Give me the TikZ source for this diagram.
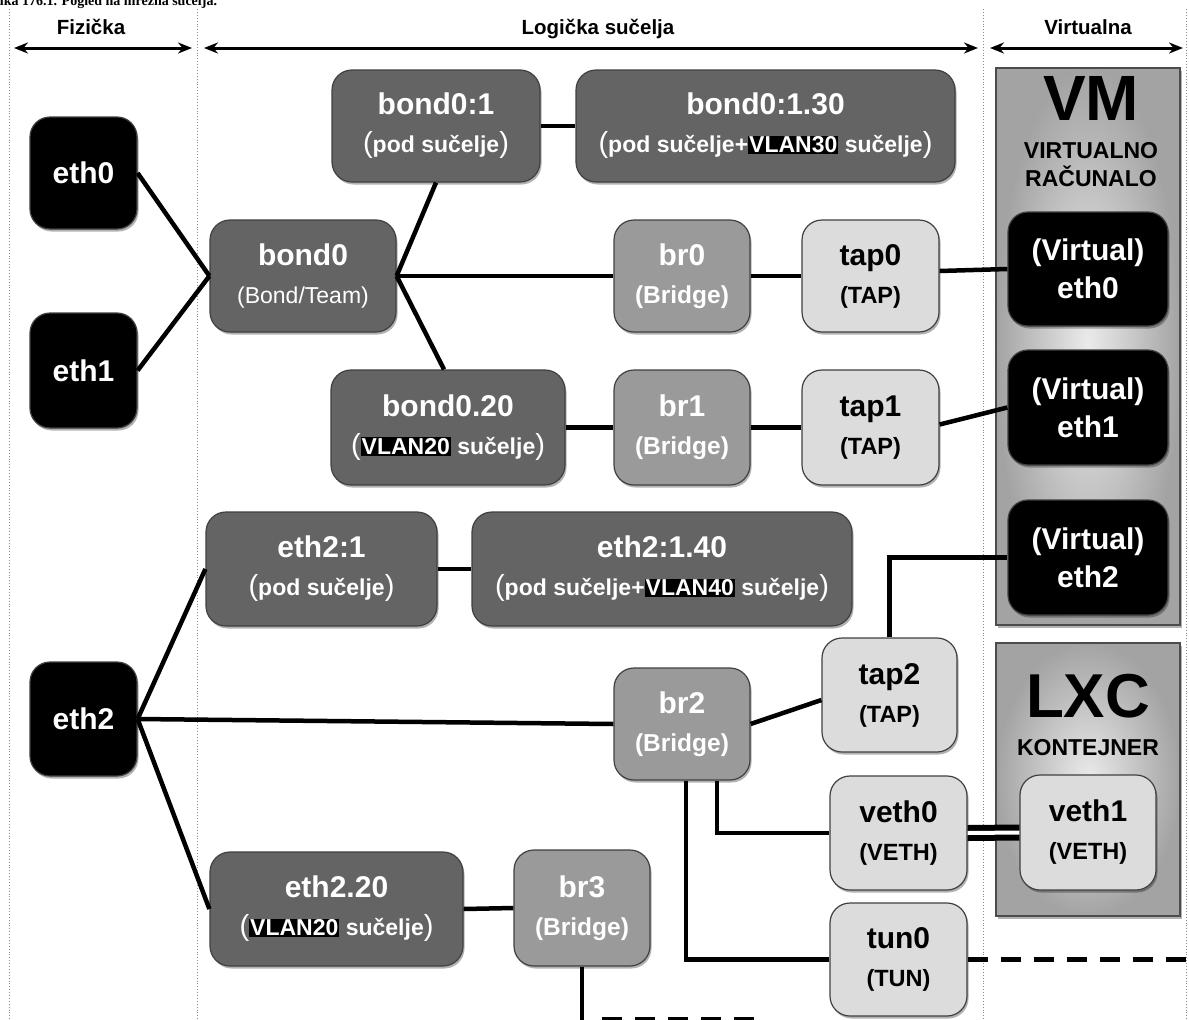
\documentclass[tikz,border=0pt]{standalone}
\usepackage{fontspec}
\setmainfont{Liberation Sans}
\newfontfamily\capfont{Liberation Serif}
\usetikzlibrary{arrows.meta,shadows,calc}
\definecolor{darkbg}{HTML}{646464}
\definecolor{midbg}{HTML}{9A9A9A}
\definecolor{lightbg}{HTML}{DCDCDC}
\newcommand\nt[1]{{\fontsize{30}{38}\selectfont\bfseries #1}}
\newcommand\ns[1]{{\fontsize{23}{38}\selectfont\bfseries #1}}
\newcommand\nsb[1]{{\fontsize{24.5}{38}\selectfont\bfseries #1}}
\newcommand\nsr[1]{{\fontsize{23}{38}\selectfont\mdseries #1}}
\newcommand\nst[1]{{\fontsize{23.5}{38}\selectfont\bfseries #1}}
\newcommand\np[1]{{\fontsize{29}{38}\selectfont\mdseries #1}}
\newcommand\vlan[1]{{\setlength{\fboxsep}{1pt}\colorbox{black}{#1}}}
\tikzset{
  ifbox/.style={draw=black!75, line width=1.2pt, rounded corners=20pt, inner sep=0pt,
    align=center, font=\fontsize{23}{38}\selectfont,
    drop shadow={shadow xshift=1.5pt, shadow yshift=-2.5pt, opacity=0.3, fill=black}},
  blackbox/.style={ifbox, fill=black, text=white},
  darkbox/.style={ifbox, fill=darkbg, text=white},
  midbox/.style={ifbox, fill=midbg, text=white},
  lightbox/.style={ifbox, fill=lightbg, text=black},
  conn/.style={line width=4.5pt, black},
  dashconn/.style={conn, dash pattern=on 20pt off 13pt},
  sepline/.style={black!45, dotted, line width=0.9pt},
  hdrarrow/.style={line width=3pt, {Stealth[length=14pt,width=11pt]}-{Stealth[length=14pt,width=11pt]}},
  hdrtext/.style={anchor=base, inner sep=0pt, font=\bfseries\fontsize{20.5}{20}\selectfont},
  vbox/.style={draw=black!70, line width=1.2pt, inner sep=0pt, inner color=black!8, outer color=black!36,
    drop shadow={shadow xshift=1.5pt, shadow yshift=-2.5pt, opacity=0.3, fill=black}},
}
\begin{document}
\begin{tikzpicture}[x=1pt,y=-1pt]
\useasboundingbox (0,0) rectangle (1189,1020);
\clip (0,0) rectangle (1189,1020);
\fill[white] (0,0) rectangle (1189,1020);

% caption (cut off at the top, as in the reference)
\node[anchor=base west, inner sep=0pt, font=\capfont\bfseries\fontsize{14}{14}\selectfont] (cap) at (-12,5) {Slika 176.1. Pogled na mrežna sučelja.};

% separators
\coordinate (s1t) at (9,9);    \coordinate (s1b) at (9,1020);
\coordinate (s2t) at (197,9);  \coordinate (s2b) at (197,1020);
\coordinate (s3t) at (983,9);  \coordinate (s3b) at (983,1020);
\coordinate (s4t) at (1186,9); \coordinate (s4b) at (1186,1020);
\draw[sepline] (s1t) -- (s1b);
\draw[sepline] (s2t) -- (s2b);
\draw[sepline] (s3t) -- (s3b);
\draw[sepline] (s4t) -- (s4b);

% headers
\node[hdrtext] (hfiz) at (91,34) {Fizička};
\node[hdrtext] (hlog) at (598,34) {Logička sučelja};
\node[hdrtext] (hvirt) at (1088,34) {Virtualna};
\coordinate (a1l) at (14,48);  \coordinate (a1r) at (192,48);
\coordinate (a2l) at (204,48); \coordinate (a2r) at (978,48);
\coordinate (a3l) at (990,48); \coordinate (a3r) at (1183,48);
\draw[hdrarrow] (a1l) -- (a1r);
\draw[hdrarrow] (a2l) -- (a2r);
\draw[hdrarrow] (a3l) -- (a3r);

% container boxes
\node[vbox, minimum width=184pt, minimum height=557pt] (vm) at (1088,346.5) {};
\node[vbox, minimum width=184pt, minimum height=273pt] (lxc) at (1088,779.5) {};
\node[inner sep=0pt, font=\bfseries\fontsize{64}{64}\selectfont] (vmt) at (1091,98) {VM};
\node[anchor=base, inner sep=0pt, font=\bfseries\fontsize{23}{23}\selectfont] (vmt2) at (1091,158) {VIRTUALNO};
\node[anchor=base, inner sep=0pt, font=\bfseries\fontsize{23}{23}\selectfont] (vmt3) at (1091,186) {RAČUNALO};
\node[inner sep=0pt, font=\bfseries\fontsize{62}{62}\selectfont] (lxct) at (1088,696) {LXC};
\node[anchor=base, inner sep=0pt, font=\bfseries\fontsize{23}{23}\selectfont] (lxct2) at (1088,755) {KONTEJNER};

% physical
\node[blackbox, minimum width=107pt, minimum height=112pt] (eth0) at (83.5,173) {\nt{eth0}};
\node[blackbox, minimum width=107pt, minimum height=115pt] (eth1) at (83.5,370.5) {\nt{eth1}};
\node[blackbox, minimum width=107pt, minimum height=114pt] (eth2) at (83.5,719) {\nt{eth2}};

% logical
\node[darkbox, minimum width=208pt, minimum height=112pt] (bond01) at (436,126)
  {\nt{bond0:1}\\\np{(}\ns{pod sučelje}\np{)}};
\node[darkbox, minimum width=379pt, minimum height=112pt] (bond0130) at (765.5,126)
  {\nt{bond0:1.30}\\\np{(}\ns{pod sučelje+\vlan{VLAN30} sučelje}\np{)}};
\node[darkbox, minimum width=186pt, minimum height=112pt] (bond0) at (303,276)
  {\nt{bond0}\\\nsr{(Bond/Team)}};
\node[midbox, minimum width=136pt, minimum height=112pt] (br0) at (682,276)
  {\nt{br0}\\\nsb{(Bridge)}};
\node[lightbox, minimum width=137pt, minimum height=112pt] (tap0) at (870.5,276)
  {\nt{tap0}\\\nst{(TAP)}};
\node[darkbox, minimum width=234pt, minimum height=115pt] (bond020) at (448,427.5)
  {\nt{bond0.20}\\\np{(}\ns{\vlan{VLAN20} sučelje}\np{)}};
\node[midbox, minimum width=136pt, minimum height=115pt] (br1) at (682,427.5)
  {\nt{br1}\\\nsb{(Bridge)}};
\node[lightbox, minimum width=137pt, minimum height=115pt] (tap1) at (870.5,427.5)
  {\nt{tap1}\\\nst{(TAP)}};
\node[darkbox, minimum width=231pt, minimum height=114pt] (eth21) at (321.5,569)
  {\nt{eth2:1}\\\np{(}\ns{pod sučelje}\np{)}};
\node[darkbox, minimum width=380pt, minimum height=114pt] (eth2140) at (662,569)
  {\nt{eth2:1.40}\\\np{(}\ns{pod sučelje+\vlan{VLAN40} sučelje}\np{)}};
\node[midbox, minimum width=136pt, minimum height=112pt] (br2) at (682,724)
  {\nt{br2}\\\nsb{(Bridge)}};
\node[lightbox, minimum width=135pt, minimum height=114pt] (tap2) at (889.5,695)
  {\nt{tap2}\\\nst{(TAP)}};
\node[lightbox, minimum width=137pt, minimum height=114pt] (veth0) at (898.5,833)
  {\nt{veth0}\\\nst{(VETH)}};
\node[lightbox, minimum width=137pt, minimum height=113pt] (tun0) at (898.5,959.5)
  {\nt{tun0}\\\nst{(TUN)}};
\node[darkbox, minimum width=253pt, minimum height=114pt] (eth220) at (336.5,909)
  {\nt{eth2.20}\\\np{(}\ns{\vlan{VLAN20} sučelje}\np{)}};
\node[midbox, minimum width=136pt, minimum height=116pt] (br3) at (582,908)
  {\nt{br3}\\\nsb{(Bridge)}};

% virtual
\node[blackbox, minimum width=160pt, minimum height=114pt] (ve0) at (1088,269)
  {\nt{(Virtual)}\\\nt{eth0}};
\node[blackbox, minimum width=160pt, minimum height=115pt] (ve1) at (1088,407.5)
  {\nt{(Virtual)}\\\nt{eth1}};
\node[blackbox, minimum width=160pt, minimum height=115pt] (ve2) at (1088,557.5)
  {\nt{(Virtual)}\\\nt{eth2}};
\node[lightbox, minimum width=136pt, minimum height=115pt] (veth1) at (1088,832.5)
  {\nt{veth1}\\\nst{(VETH)}};

% connectors
\draw[conn] (eth0.east) -- (bond0.west);
\draw[conn] (eth1.east) -- (bond0.west);
\draw[conn] (bond0.east) -- (bond01.south);
\draw[conn] (bond0.east) -- (br0.west);
\draw[conn] (bond0.east) -- ([xshift=-4pt]bond020.north);
\draw[conn] (bond01.east) -- (bond0130.west);
\draw[conn] (br0.east) -- (tap0.west);
\draw[conn] ([yshift=5pt]tap0.east) -- (ve0.west);
\draw[conn] (bond020.east) -- (br1.west);
\draw[conn] (br1.east) -- (tap1.west);
\draw[conn] ([yshift=3pt]tap1.east) -- (ve1.west);
\draw[conn] (eth2.east) -- (eth21.west);
\draw[conn] (eth2.east) -- (br2.west);
\draw[conn] (eth2.east) -- (eth220.west);
\draw[conn] (eth21.east) -- (eth2140.west);
\draw[conn] (br2.east) -- ([yshift=-5pt]tap2.west);
\draw[conn] (tap2.north) |- (ve2.west);
\draw[conn] ([xshift=35pt]br2.south) |- (veth0.west);
\draw[conn] ([xshift=4pt]br2.south) |- (tun0.west);
\draw[black, line width=6pt, double=white, double distance=4pt] (veth0.east) -- (veth1.west);
\coordinate (tunend) at (1189,959.5);
\draw[dashconn] (tun0.east) -- (tunend);
\draw[conn] (eth220.east) -- (br3.west);
\coordinate (br3down) at (582,1022);
\draw[conn] (br3.south) -- (br3down);
\coordinate (dashstart) at (602,1019);
\coordinate (dashend) at (760,1019);
\draw[dashconn] (dashstart) -- (dashend);
\end{tikzpicture}
\end{document}
